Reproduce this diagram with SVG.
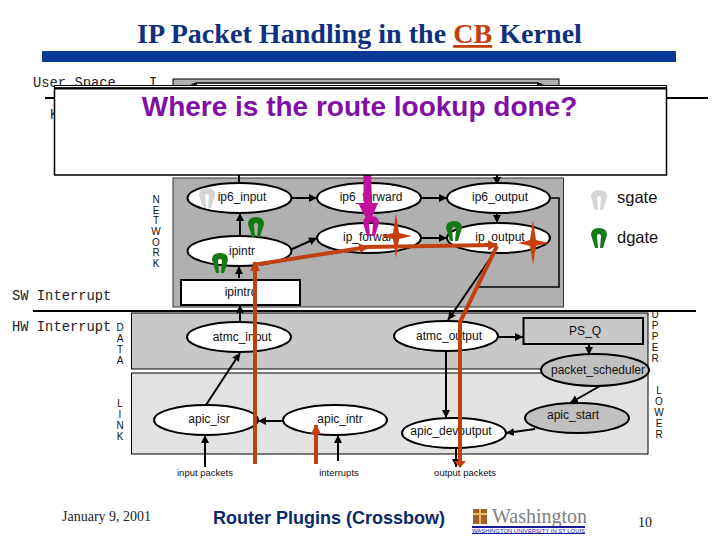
<svg xmlns="http://www.w3.org/2000/svg" xmlns:xlink="http://www.w3.org/1999/xlink" width="720" height="540" viewBox="0 0 720 540">
<style>
.n{fill:#fff;stroke:#000;stroke-width:2}
.g{fill:#c0c0c0;stroke:#000;stroke-width:2}
.t{font-family:"Liberation Sans",Arial,sans-serif;font-size:12px;fill:#111;text-anchor:middle}
.v{font-family:"Liberation Sans",Arial,sans-serif;font-size:10px;fill:#111;text-anchor:middle}
.m{font-family:"Liberation Mono","Courier New",monospace;font-size:13.800px;fill:#222}
.s{font-family:"Liberation Sans",Arial,sans-serif;font-size:9.500px;fill:#111;text-anchor:middle}
.c{fill:none;stroke:#000;stroke-width:2;marker-end:url(#a)}
.r{fill:none;stroke:#c04010;stroke-width:4;marker-end:url(#ra)}
.star{fill:#c84010}
.sg{fill:#d4d4d4}
.dg{fill:#157a15}
.mg{fill:#c0109c}
</style>
<defs>
<marker id="a" markerUnits="userSpaceOnUse" markerWidth="10" markerHeight="10" refX="8" refY="4" orient="auto"><path d="M0,0L8,4L0,8z" fill="#000"/></marker>
<marker id="ra" markerUnits="userSpaceOnUse" markerWidth="12" markerHeight="12" refX="9" refY="5" orient="auto"><path d="M0,0L10,5L0,10z" fill="#c04010"/></marker>
<path id="gate" d="M-4,10L-8,-3Q-8,-10 0,-10Q8,-10 8,-3L4,10L1,10L2,-2Q2,-4 0,-4Q-2,-4 -2,-2L-1,10z"/>
<path id="st" d="M0,-23L3,-3L16,0L3,3L0,22L-3,3L-15,0L-3,-3z"/>
</defs>
<rect width="720" height="540" fill="#fff"/>
<text x="359.500" y="43" font-family="Liberation Serif,Times New Roman,serif" font-weight="bold" font-size="28.100" text-anchor="middle" fill="#0f2f80">IP Packet Handling in the <tspan fill="#c04010" text-decoration="underline">CB</tspan> Kernel</text>
<rect x="42" y="51" width="634" height="11" fill="#0a3a96"/>

<g id="panels">
<rect x="173" y="79" width="386" height="20" fill="#b0b0b0" stroke="#000"/>
<rect x="197" y="83" width="340" height="3" fill="#fff"/>
<rect x="173" y="178" width="390.500" height="129" fill="#b0b0b0" stroke="#333"/>
<rect x="131.500" y="313" width="516.500" height="56" fill="#c8c8c8" stroke="#000"/>
<rect x="131.500" y="373" width="516.500" height="81" fill="#e2e2e2" stroke="#000"/>
</g>

<g id="side-labels">
<text class="m" x="33" y="87">User Space</text>
<text class="m" x="50" y="119">K</text>
<text class="m" x="149" y="87">I</text>
<text class="m" x="12" y="300">SW Interrupt</text>
<text class="m" x="12" y="331">HW Interrupt</text>
<text class="v"><tspan x="156" y="203">N</tspan><tspan x="156" y="213.500">E</tspan><tspan x="156" y="224">T</tspan><tspan x="156" y="235">W</tspan><tspan x="156" y="245.500">O</tspan><tspan x="156" y="256">R</tspan><tspan x="156" y="266.500">K</tspan></text>
<text class="v"><tspan x="120" y="331">D</tspan><tspan x="120" y="342">A</tspan><tspan x="120" y="352.500">T</tspan><tspan x="120" y="363.500">A</tspan></text>
<text class="v"><tspan x="120" y="407">L</tspan><tspan x="120" y="418">I</tspan><tspan x="120" y="429">N</tspan><tspan x="120" y="440">K</tspan></text>
<text class="v"><tspan x="655" y="318">U</tspan><tspan x="655" y="329">P</tspan><tspan x="655" y="340">P</tspan><tspan x="655" y="351">E</tspan><tspan x="655" y="362">R</tspan></text>
<text class="v"><tspan x="659" y="394">L</tspan><tspan x="659" y="405">O</tspan><tspan x="659" y="416">W</tspan><tspan x="659" y="427">E</tspan><tspan x="659" y="438">R</tspan></text>
</g>

<g id="connectors">
<path d="M45,98H708" stroke="#000" stroke-width="2"/>
<path d="M33,311H696" stroke="#000" stroke-width="2"/>
<path d="M197,83H537" stroke="#000" stroke-width="1.500"/>
<path d="M197,82L190,84.500L197,85zM537,82L544,84.500L537,85z" fill="#000"/>
<path d="M239,170V184" stroke="#000" stroke-width="2"/>
<path class="c" d="M497,170V185"/>
<path class="c" d="M497,185V223"/>
<path class="c" d="M240,236V213"/>
<path class="c" d="M291,198H317"/>
<path class="c" d="M290,250L317,238"/>
<path class="c" d="M421,198H447"/>
<path class="c" d="M421,238H447"/>
<path class="c" d="M239,278V266"/>
<path class="c" d="M240,321V305"/>
<path d="M550,198H559V287H476" fill="none" stroke="#000" stroke-width="1.500"/>
<path class="c" d="M494,253L448,320"/>
<path class="c" d="M206,405L240,353"/>
<path class="c" d="M498,337H523"/>
<path class="c" d="M589,344V355"/>
<path class="c" d="M600,386L570,403"/>
<path class="c" d="M535,429L506,433"/>
<path class="c" d="M446,351V418"/>
<path class="c" d="M456,448V467"/>
<path class="c" d="M283,421H258"/>
<path class="c" d="M205,467V435"/>
<path class="c" d="M338,461V435"/>
</g>

<g id="ip6_input"><ellipse class="n" cx="239.500" cy="198" rx="52" ry="15"/><text class="t" x="242" y="201">ip6_input</text></g>
<g id="ipintr"><ellipse class="n" cx="239.500" cy="251" rx="52" ry="15"/><text class="t" x="242" y="255">ipintr</text></g>
<g id="ip6_forward"><ellipse class="n" cx="369" cy="198" rx="52" ry="15"/><text class="t" x="371" y="201">ip6_forward</text></g>
<g id="ip_forward"><ellipse class="n" cx="369" cy="238" rx="52" ry="15"/><text class="t" x="371" y="241">ip_forward</text></g>
<g id="ip6_output"><ellipse class="n" cx="498.500" cy="198" rx="51.500" ry="15"/><text class="t" x="500" y="201">ip6_output</text></g>
<g id="ip_output"><ellipse class="n" cx="498.500" cy="238" rx="51.500" ry="15"/><text class="t" x="500" y="241">ip_output</text></g>
<g id="ipintrq"><rect class="n" x="181" y="280" width="119" height="25"/><text class="t" x="241" y="296">ipintrq</text></g>
<g id="atmc_input"><ellipse class="n" cx="239" cy="337" rx="52" ry="15"/><text class="t" x="242" y="341">atmc_input</text></g>
<g id="atmc_output"><ellipse class="n" cx="446" cy="336" rx="52" ry="15"/><text class="t" x="449" y="340">atmc_output</text></g>
<g id="PS_Q"><rect class="n" style="fill:#c8c8c8" x="523.500" y="318" width="119.500" height="26"/><text class="t" x="585" y="335">PS_Q</text></g>
<g id="packet_scheduler"><ellipse class="g" cx="595" cy="370" rx="54" ry="16"/><text class="t" x="598" y="374">packet_scheduler</text></g>
<g id="apic_start"><ellipse class="g" cx="577" cy="418" rx="52" ry="15"/><text class="t" x="573" y="419">apic_start</text></g>
<g id="apic_devoutput"><ellipse class="n" cx="454" cy="433" rx="52" ry="15"/><text class="t" x="451" y="435">apic_devoutput</text></g>
<g id="apic_isr"><ellipse class="n" cx="206" cy="420" rx="52" ry="15"/><text class="t" x="209" y="423">apic_isr</text></g>
<g id="apic_intr"><ellipse class="n" cx="335" cy="420" rx="52" ry="15"/><text class="t" x="340" y="423">apic_intr</text></g>

<g id="io-labels">
<text class="s" x="205" y="476">input packets</text>
<text class="s" x="339" y="476">interrupts</text>
<text class="s" x="465" y="476">output packets</text>
</g>

<g id="gates">
<use xlink:href="#gate" class="sg" x="207" y="198"/>
<use xlink:href="#gate" class="dg" x="256" y="227"/>
<use xlink:href="#gate" class="dg" x="220" y="263"/>
<use xlink:href="#gate" class="dg" x="454" y="231"/>
<use xlink:href="#gate" class="sg" x="599" y="200"/>
<use xlink:href="#gate" class="dg" x="599" y="238"/>
<use xlink:href="#gate" class="mg" x="371" y="226"/>
</g>
<text x="617" y="203" font-family="Liberation Sans,Arial,sans-serif" font-size="16.500" fill="#111">sgate</text>
<text x="617" y="243" font-family="Liberation Sans,Arial,sans-serif" font-size="16.500" fill="#111">dgate</text>

<g id="highlights">
<path d="M363,170H371L372,203H378L369,224L358,203H364z" fill="#c0109c"/>
<path class="r" d="M255,464V262"/>
<path class="r" d="M253,265L368,247"/>
<path class="r" d="M366,247L497,245"/>
<path d="M497,246L460,322V464" fill="none" stroke="#c04010" stroke-width="4"/>
<path d="M454,461L460,468L466,461z" fill="#c04010"/>
<path class="r" d="M316,464V425"/>
<use xlink:href="#st" class="star" x="396" y="236"/>
<use xlink:href="#st" class="star" x="533" y="243"/>
</g>

<g id="popup">
<rect x="54.500" y="85.500" width="612" height="3" fill="#fff" stroke="#000"/>
<rect x="54.500" y="88" width="612" height="87" fill="#fff" stroke="#000" stroke-width="1.500"/>
<path d="M54,88.500H666" stroke="#000" stroke-width="2"/>
<text x="359.500" y="116" font-family="Liberation Sans,Arial,sans-serif" font-weight="bold" font-size="28" text-anchor="middle" fill="#8010a8">Where is the route lookup done?</text>
</g>

<g id="footer">
<text x="62" y="521" font-family="Liberation Serif,Times New Roman,serif" font-size="14" fill="#222">January 9, 2001</text>
<text x="329" y="524" font-family="Liberation Sans,Arial,sans-serif" font-weight="bold" font-size="18" text-anchor="middle" fill="#0b2a6a">Router Plugins (Crossbow)</text>
<rect x="473" y="509" width="14" height="15" fill="#a0622a"/>
<path d="M473,514H487M480,509V524" stroke="#e0c060" stroke-width="2"/>
<text x="492" y="523" font-family="Liberation Serif,Times New Roman,serif" font-size="20" fill="#808080">Washington</text>
<rect x="472" y="526" width="113" height="2" fill="#1a1aa0"/>
<rect x="472" y="533" width="113" height="1" fill="#1a1aa0"/>
<text x="472" y="533" font-family="Liberation Sans,Arial,sans-serif" font-size="5.500" fill="#1a1aa0" textLength="113" lengthAdjust="spacingAndGlyphs">WASHINGTON UNIVERSITY IN ST LOUIS</text>
<text x="645" y="527" font-family="Liberation Serif,Times New Roman,serif" font-size="14" text-anchor="middle" fill="#222">10</text>
</g>
</svg>
